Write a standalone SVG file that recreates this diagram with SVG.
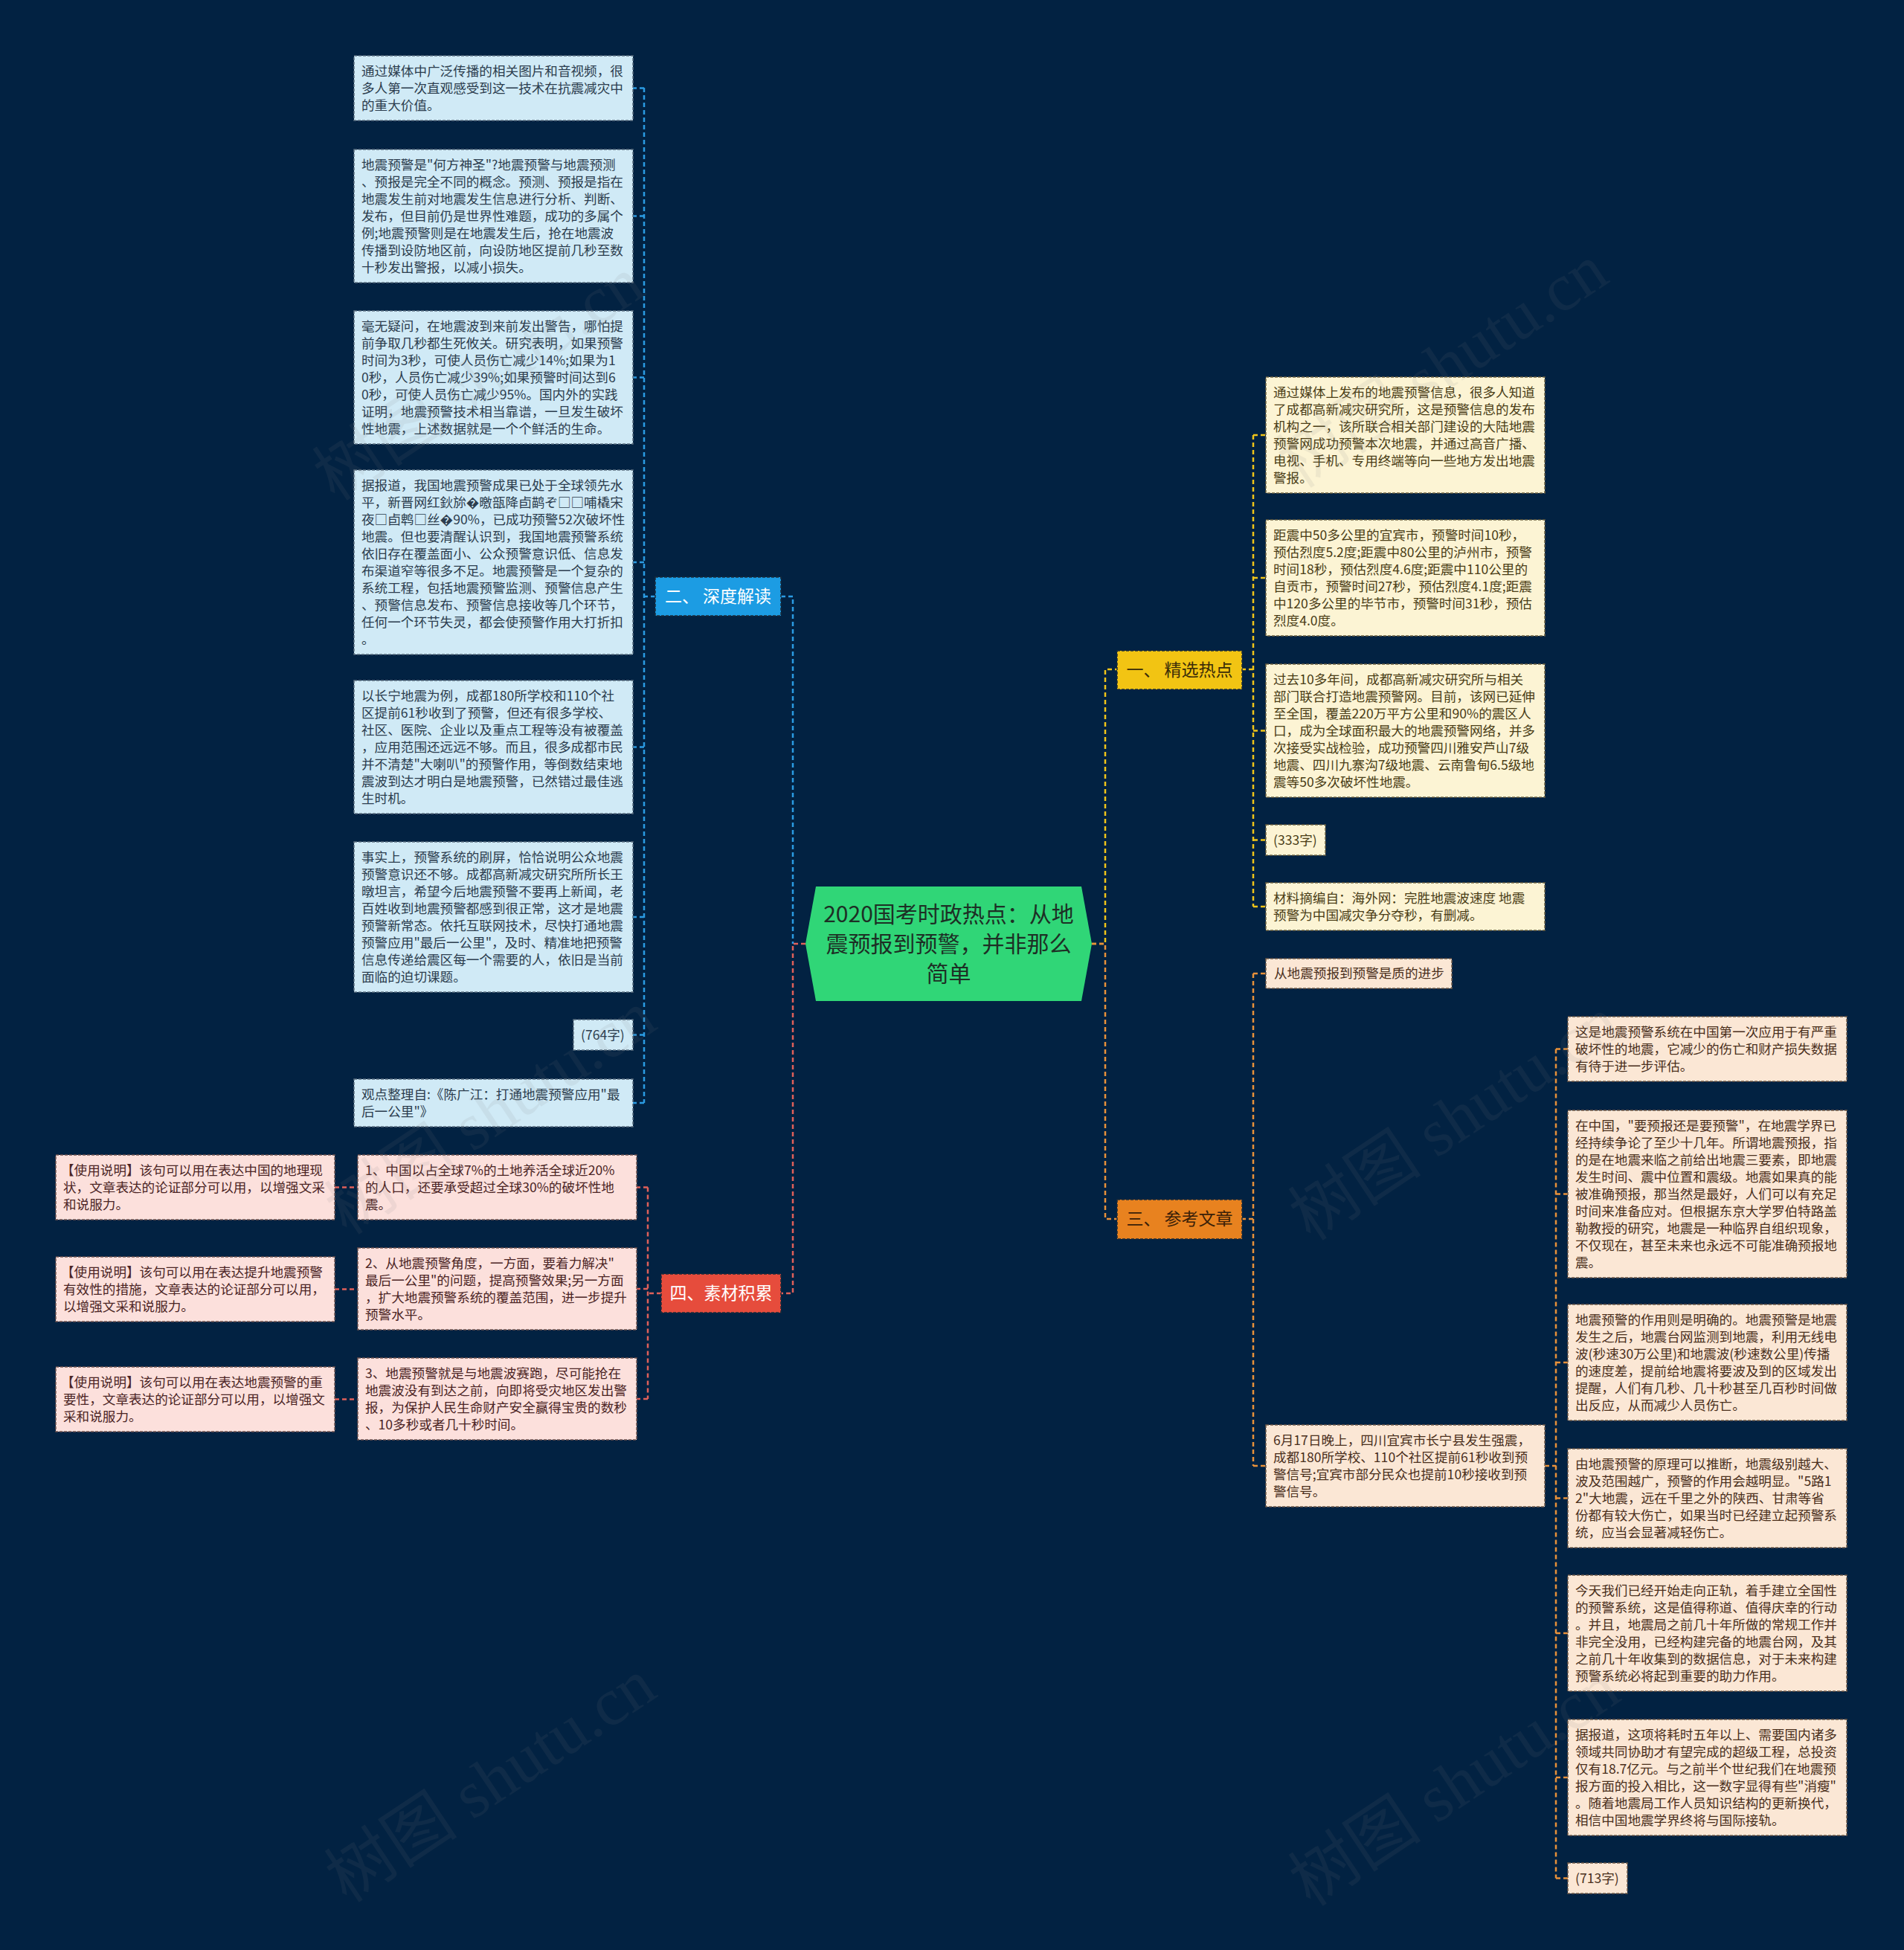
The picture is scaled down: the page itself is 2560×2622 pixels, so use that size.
<svg xmlns="http://www.w3.org/2000/svg" width="2560" height="2622" viewBox="0 0 2560 2622">
<style>
text{font-family:"Noto Sans CJK SC","Noto Sans",sans-serif}
.t{font-size:17.6px}
.bx{stroke-width:1.5;stroke-dasharray:4 2}
.cB{fill:#d0eaf6;stroke:#5b6f80}
.cY{fill:#fcf4d4;stroke:#6b6040}
.cO{fill:#fbe7d5;stroke:#6f5a48}
.cR{fill:#fce0dc;stroke:#705450}
.tB{fill:#2c3d4e}
.tY{fill:#4a3d16}
.tO{fill:#4a2f1c}
.tR{fill:#4b2424}
.br{stroke:#1d2b3a;stroke-width:1.5;stroke-dasharray:4 2}
.bt{font-size:23px;text-anchor:middle}
.ln{fill:none;stroke-width:2.5;stroke-dasharray:6 4}
.lB{stroke:#2b9be2}
.lY{stroke:#f0c419}
.lO{stroke:#e8913a}
.lR{stroke:#e0605a}
.wm{font-family:"Liberation Serif","Noto Sans CJK SC",serif;font-size:90px;fill:#808080;opacity:0.1;text-anchor:middle}
</style>
<rect width="2560" height="2622" fill="#022242"/>

<g id="connectors">
<path class="ln lB" d="M1050,802 H1066 V1269"/>
<path class="ln lR" d="M1083,1269 H1066 V1739 H1050"/>
<path class="ln lB" d="M881,802 H866 M866,118 V1483 M866,118.5 H851 M866,290.5 H851 M866,507.5 H851 M866,756 H851 M866,1004.5 H851 M866,1233 H851 M866,1391.5 H851 M866,1483 H851"/>
<path class="ln lY" d="M1468,1269 H1486 V900 H1502"/>
<path class="ln lO" d="M1468,1269 H1486 V1639 H1502"/>
<path class="ln lY" d="M1669,900 H1685 M1685,585 V1219 M1685,585 H1702 M1685,777 H1702 M1685,982.5 H1702 M1685,1129.5 H1702 M1685,1219 H1702"/>
<path class="ln lO" d="M1669,1639 H1685 M1685,1309 V1971 M1685,1309 H1702 M1685,1971 H1702"/>
<path class="ln lO" d="M2077,1971 H2092 M2092,1410.5 V2525.5 M2092,1410.5 H2108 M2092,1605.5 H2108 M2092,1832 H2108 M2092,2014.5 H2108 M2092,2196 H2108 M2092,2390 H2108 M2092,2525.5 H2108"/>
<path class="ln lR" d="M889,1739 H871 M871,1596.5 V1881 M871,1596.5 H856 M871,1733 H856 M871,1881 H856"/>
<path class="ln lR" d="M450,1596.5 H481 M450,1733.5 H481 M450,1881.5 H481"/>
</g>

<g id="center">
<polygon points="1097,1192 1454,1192 1468,1269 1454,1346 1097,1346 1083,1269" fill="#30d677"/>
<text font-size="30" fill="#1d2f25" text-anchor="middle"><tspan x="1275.5" y="1240">2020国考时政热点：从地</tspan><tspan x="1275.5" y="1280">震预报到预警，并非那么</tspan><tspan x="1275.5" y="1320">简单</tspan></text>
</g>

<g id="branch-2">
<rect class="br" x="881" y="776" width="169" height="52" fill="#1c9ce3"/>
<text class="bt" x="965.5" y="810" fill="#ffffff">二、 深度解读</text>
</g>
<g id="branch-1">
<rect class="br" x="1502" y="875" width="168" height="52" fill="#f2c413"/>
<text class="bt" x="1586" y="909" fill="#3a2c08">一、 精选热点</text>
</g>
<g id="branch-3">
<rect class="br" x="1502" y="1613" width="168" height="53" fill="#e8821f"/>
<text class="bt" x="1586" y="1647" fill="#3a2008">三、 参考文章</text>
</g>
<g id="branch-4">
<rect class="br" x="889" y="1713" width="161" height="52" fill="#e64c3c"/>
<text class="bt" x="969.5" y="1747" fill="#ffffff">四、素材积累</text>
</g>

<g id="b1"><rect class="bx cB" x="476" y="75" width="375" height="87"/>
<text class="t tB"><tspan x="486" y="102">通过媒体中广泛传播的相关图片和音视频，很</tspan><tspan x="486" dy="23">多人第一次直观感受到这一技术在抗震减灾中</tspan><tspan x="486" dy="23">的重大价值。</tspan></text></g>
<g id="b2"><rect class="bx cB" x="476" y="201" width="375" height="179"/>
<text class="t tB"><tspan x="486" y="228">地震预警是"何方神圣"?地震预警与地震预测</tspan><tspan x="486" dy="23">、预报是完全不同的概念。预测、预报是指在</tspan><tspan x="486" dy="23">地震发生前对地震发生信息进行分析、判断、</tspan><tspan x="486" dy="23">发布，但目前仍是世界性难题，成功的多属个</tspan><tspan x="486" dy="23">例;地震预警则是在地震发生后，抢在地震波</tspan><tspan x="486" dy="23">传播到设防地区前，向设防地区提前几秒至数</tspan><tspan x="486" dy="23">十秒发出警报，以减小损失。</tspan></text></g>
<g id="b3"><rect class="bx cB" x="476" y="418" width="375" height="179"/>
<text class="t tB"><tspan x="486" y="445">毫无疑问，在地震波到来前发出警告，哪怕提</tspan><tspan x="486" dy="23">前争取几秒都生死攸关。研究表明，如果预警</tspan><tspan x="486" dy="23">时间为3秒，可使人员伤亡减少14%;如果为1</tspan><tspan x="486" dy="23">0秒，人员伤亡减少39%;如果预警时间达到6</tspan><tspan x="486" dy="23">0秒，可使人员伤亡减少95%。国内外的实践</tspan><tspan x="486" dy="23">证明，地震预警技术相当靠谱，一旦发生破坏</tspan><tspan x="486" dy="23">性地震，上述数据就是一个个鲜活的生命。</tspan></text></g>
<g id="b4"><rect class="bx cB" x="476" y="632" width="375" height="248"/>
<text class="t tB"><tspan x="486" y="659">据报道，我国地震预警成果已处于全球领先水</tspan><tspan x="486" dy="23">平，新晋网红鈥旀�曒瓿降卣鹋ぞ□□哺橇宋</tspan><tspan x="486" dy="23">夜□卣鹎□丝�90%，已成功预警52次破坏性</tspan><tspan x="486" dy="23">地震。但也要清醒认识到，我国地震预警系统</tspan><tspan x="486" dy="23">依旧存在覆盖面小、公众预警意识低、信息发</tspan><tspan x="486" dy="23">布渠道窄等很多不足。地震预警是一个复杂的</tspan><tspan x="486" dy="23">系统工程，包括地震预警监测、预警信息产生</tspan><tspan x="486" dy="23">、预警信息发布、预警信息接收等几个环节，</tspan><tspan x="486" dy="23">任何一个环节失灵，都会使预警作用大打折扣</tspan><tspan x="486" dy="23">。</tspan></text></g>
<g id="b5"><rect class="bx cB" x="476" y="915" width="375" height="179"/>
<text class="t tB"><tspan x="486" y="942">以长宁地震为例，成都180所学校和110个社</tspan><tspan x="486" dy="23">区提前61秒收到了预警，但还有很多学校、</tspan><tspan x="486" dy="23">社区、医院、企业以及重点工程等没有被覆盖</tspan><tspan x="486" dy="23">，应用范围还远远不够。而且，很多成都市民</tspan><tspan x="486" dy="23">并不清楚"大喇叭"的预警作用，等倒数结束地</tspan><tspan x="486" dy="23">震波到达才明白是地震预警，已然错过最佳逃</tspan><tspan x="486" dy="23">生时机。</tspan></text></g>
<g id="b6"><rect class="bx cB" x="476" y="1132" width="375" height="202"/>
<text class="t tB"><tspan x="486" y="1159">事实上，预警系统的刷屏，恰恰说明公众地震</tspan><tspan x="486" dy="23">预警意识还不够。成都高新减灾研究所所长王</tspan><tspan x="486" dy="23">暾坦言，希望今后地震预警不要再上新闻，老</tspan><tspan x="486" dy="23">百姓收到地震预警都感到很正常，这才是地震</tspan><tspan x="486" dy="23">预警新常态。依托互联网技术，尽快打通地震</tspan><tspan x="486" dy="23">预警应用"最后一公里"，及时、精准地把预警</tspan><tspan x="486" dy="23">信息传递给震区每一个需要的人，依旧是当前</tspan><tspan x="486" dy="23">面临的迫切课题。</tspan></text></g>
<g id="b7"><rect class="bx cB" x="771" y="1371" width="80" height="41"/>
<text class="t tB" x="781" y="1398">(764字)</text></g>
<g id="b8"><rect class="bx cB" x="476" y="1451" width="375" height="64"/>
<text class="t tB"><tspan x="486" y="1478">观点整理自:《陈广江：打通地震预警应用"最</tspan><tspan x="486" dy="23">后一公里"》</tspan></text></g>

<g id="r1"><rect class="bx cY" x="1702" y="507" width="375" height="156"/>
<text class="t tY"><tspan x="1712" y="534">通过媒体上发布的地震预警信息，很多人知道</tspan><tspan x="1712" dy="23">了成都高新减灾研究所，这是预警信息的发布</tspan><tspan x="1712" dy="23">机构之一，该所联合相关部门建设的大陆地震</tspan><tspan x="1712" dy="23">预警网成功预警本次地震，并通过高音广播、</tspan><tspan x="1712" dy="23">电视、手机、专用终端等向一些地方发出地震</tspan><tspan x="1712" dy="23">警报。</tspan></text></g>
<g id="r2"><rect class="bx cY" x="1702" y="699" width="375" height="156"/>
<text class="t tY"><tspan x="1712" y="726">距震中50多公里的宜宾市，预警时间10秒，</tspan><tspan x="1712" dy="23">预估烈度5.2度;距震中80公里的泸州市，预警</tspan><tspan x="1712" dy="23">时间18秒，预估烈度4.6度;距震中110公里的</tspan><tspan x="1712" dy="23">自贡市，预警时间27秒，预估烈度4.1度;距震</tspan><tspan x="1712" dy="23">中120多公里的毕节市，预警时间31秒，预估</tspan><tspan x="1712" dy="23">烈度4.0度。</tspan></text></g>
<g id="r3"><rect class="bx cY" x="1702" y="893" width="375" height="179"/>
<text class="t tY"><tspan x="1712" y="920">过去10多年间，成都高新减灾研究所与相关</tspan><tspan x="1712" dy="23">部门联合打造地震预警网。目前，该网已延伸</tspan><tspan x="1712" dy="23">至全国，覆盖220万平方公里和90%的震区人</tspan><tspan x="1712" dy="23">口，成为全球面积最大的地震预警网络，并多</tspan><tspan x="1712" dy="23">次接受实战检验，成功预警四川雅安芦山7级</tspan><tspan x="1712" dy="23">地震、四川九寨沟7级地震、云南鲁甸6.5级地</tspan><tspan x="1712" dy="23">震等50多次破坏性地震。</tspan></text></g>
<g id="r4"><rect class="bx cY" x="1702" y="1109" width="80" height="41"/>
<text class="t tY" x="1712" y="1136">(333字)</text></g>
<g id="r5"><rect class="bx cY" x="1702" y="1187" width="375" height="64"/>
<text class="t tY"><tspan x="1712" y="1214">材料摘编自：海外网：完胜地震波速度 地震</tspan><tspan x="1712" dy="23">预警为中国减灾争分夺秒，有删减。</tspan></text></g>

<g id="o1"><rect class="bx cO" x="1702" y="1289" width="250" height="40"/>
<text class="t tO" x="1713" y="1315">从地震预报到预警是质的进步</text></g>
<g id="o2"><rect class="bx cO" x="1702" y="1916" width="375" height="110"/>
<text class="t tO"><tspan x="1712" y="1943">6月17日晚上，四川宜宾市长宁县发生强震，</tspan><tspan x="1712" dy="23">成都180所学校、110个社区提前61秒收到预</tspan><tspan x="1712" dy="23">警信号;宜宾市部分民众也提前10秒接收到预</tspan><tspan x="1712" dy="23">警信号。</tspan></text></g>

<g id="f1"><rect class="bx cO" x="2108" y="1367" width="375" height="87"/>
<text class="t tO"><tspan x="2118" y="1394">这是地震预警系统在中国第一次应用于有严重</tspan><tspan x="2118" dy="23">破坏性的地震，它减少的伤亡和财产损失数据</tspan><tspan x="2118" dy="23">有待于进一步评估。</tspan></text></g>
<g id="f2"><rect class="bx cO" x="2108" y="1493" width="375" height="225"/>
<text class="t tO"><tspan x="2118" y="1520">在中国，"要预报还是要预警"，在地震学界已</tspan><tspan x="2118" dy="23">经持续争论了至少十几年。所谓地震预报，指</tspan><tspan x="2118" dy="23">的是在地震来临之前给出地震三要素，即地震</tspan><tspan x="2118" dy="23">发生时间、震中位置和震级。地震如果真的能</tspan><tspan x="2118" dy="23">被准确预报，那当然是最好，人们可以有充足</tspan><tspan x="2118" dy="23">时间来准备应对。但根据东京大学罗伯特路盖</tspan><tspan x="2118" dy="23">勒教授的研究，地震是一种临界自组织现象，</tspan><tspan x="2118" dy="23">不仅现在，甚至未来也永远不可能准确预报地</tspan><tspan x="2118" dy="23">震。</tspan></text></g>
<g id="f3"><rect class="bx cO" x="2108" y="1754" width="375" height="156"/>
<text class="t tO"><tspan x="2118" y="1781">地震预警的作用则是明确的。地震预警是地震</tspan><tspan x="2118" dy="23">发生之后，地震台网监测到地震，利用无线电</tspan><tspan x="2118" dy="23">波(秒速30万公里)和地震波(秒速数公里)传播</tspan><tspan x="2118" dy="23">的速度差，提前给地震将要波及到的区域发出</tspan><tspan x="2118" dy="23">提醒，人们有几秒、几十秒甚至几百秒时间做</tspan><tspan x="2118" dy="23">出反应，从而减少人员伤亡。</tspan></text></g>
<g id="f4"><rect class="bx cO" x="2108" y="1948" width="375" height="133"/>
<text class="t tO"><tspan x="2118" y="1975">由地震预警的原理可以推断，地震级别越大、</tspan><tspan x="2118" dy="23">波及范围越广，预警的作用会越明显。"5路1</tspan><tspan x="2118" dy="23">2"大地震，远在千里之外的陕西、甘肃等省</tspan><tspan x="2118" dy="23">份都有较大伤亡，如果当时已经建立起预警系</tspan><tspan x="2118" dy="23">统，应当会显著减轻伤亡。</tspan></text></g>
<g id="f5"><rect class="bx cO" x="2108" y="2118" width="375" height="156"/>
<text class="t tO"><tspan x="2118" y="2145">今天我们已经开始走向正轨，着手建立全国性</tspan><tspan x="2118" dy="23">的预警系统，这是值得称道、值得庆幸的行动</tspan><tspan x="2118" dy="23">。并且，地震局之前几十年所做的常规工作并</tspan><tspan x="2118" dy="23">非完全没用，已经构建完备的地震台网，及其</tspan><tspan x="2118" dy="23">之前几十年收集到的数据信息，对于未来构建</tspan><tspan x="2118" dy="23">预警系统必将起到重要的助力作用。</tspan></text></g>
<g id="f6"><rect class="bx cO" x="2108" y="2312" width="375" height="156"/>
<text class="t tO"><tspan x="2118" y="2339">据报道，这项将耗时五年以上、需要国内诸多</tspan><tspan x="2118" dy="23">领域共同协助才有望完成的超级工程，总投资</tspan><tspan x="2118" dy="23">仅有18.7亿元。与之前半个世纪我们在地震预</tspan><tspan x="2118" dy="23">报方面的投入相比，这一数字显得有些"消瘦"</tspan><tspan x="2118" dy="23">。随着地震局工作人员知识结构的更新换代，</tspan><tspan x="2118" dy="23">相信中国地震学界终将与国际接轨。</tspan></text></g>
<g id="f7"><rect class="bx cO" x="2108" y="2505" width="80" height="41"/>
<text class="t tO" x="2118" y="2532">(713字)</text></g>

<g id="m1"><rect class="bx cR" x="481" y="1553" width="375" height="87"/>
<text class="t tR"><tspan x="491" y="1580">1、中国以占全球7%的土地养活全球近20%</tspan><tspan x="491" dy="23">的人口，还要承受超过全球30%的破坏性地</tspan><tspan x="491" dy="23">震。</tspan></text></g>
<g id="m2"><rect class="bx cR" x="481" y="1678" width="375" height="110"/>
<text class="t tR"><tspan x="491" y="1705">2、从地震预警角度，一方面，要着力解决"</tspan><tspan x="491" dy="23">最后一公里"的问题，提高预警效果;另一方面</tspan><tspan x="491" dy="23">，扩大地震预警系统的覆盖范围，进一步提升</tspan><tspan x="491" dy="23">预警水平。</tspan></text></g>
<g id="m3"><rect class="bx cR" x="481" y="1826" width="375" height="110"/>
<text class="t tR"><tspan x="491" y="1853">3、地震预警就是与地震波赛跑，尽可能抢在</tspan><tspan x="491" dy="23">地震波没有到达之前，向即将受灾地区发出警</tspan><tspan x="491" dy="23">报，为保护人民生命财产安全赢得宝贵的数秒</tspan><tspan x="491" dy="23">、10多秒或者几十秒时间。</tspan></text></g>
<g id="u1"><rect class="bx cR" x="75" y="1553" width="375" height="87"/>
<text class="t tR"><tspan x="82" y="1580">【使用说明】该句可以用在表达中国的地理现</tspan><tspan x="85" dy="23">状，文章表达的论证部分可以用，以增强文采</tspan><tspan x="85" dy="23">和说服力。</tspan></text></g>
<g id="u2"><rect class="bx cR" x="75" y="1690" width="375" height="87"/>
<text class="t tR"><tspan x="82" y="1717">【使用说明】该句可以用在表达提升地震预警</tspan><tspan x="85" dy="23">有效性的措施，文章表达的论证部分可以用，</tspan><tspan x="85" dy="23">以增强文采和说服力。</tspan></text></g>
<g id="u3"><rect class="bx cR" x="75" y="1838" width="375" height="87"/>
<text class="t tR"><tspan x="82" y="1865">【使用说明】该句可以用在表达地震预警的重</tspan><tspan x="85" dy="23">要性，文章表达的论证部分可以用，以增强文</tspan><tspan x="85" dy="23">采和说服力。</tspan></text></g>

<g id="watermarks">
<text class="wm" x="644" y="540" transform="rotate(-33.7 644 510)">树图 shutu.cn</text>
<text class="wm" x="1940" y="523" transform="rotate(-33.7 1940 493)">树图 shutu.cn</text>
<text class="wm" x="660" y="1527" transform="rotate(-33.7 660 1497)">树图 shutu.cn</text>
<text class="wm" x="1956" y="1535" transform="rotate(-33.7 1956 1505)">树图 shutu.cn</text>
<text class="wm" x="660" y="2425" transform="rotate(-33.7 660 2395)">树图 shutu.cn</text>
<text class="wm" x="1956" y="2430" transform="rotate(-33.7 1956 2400)">树图 shutu.cn</text>
</g>
</svg>
